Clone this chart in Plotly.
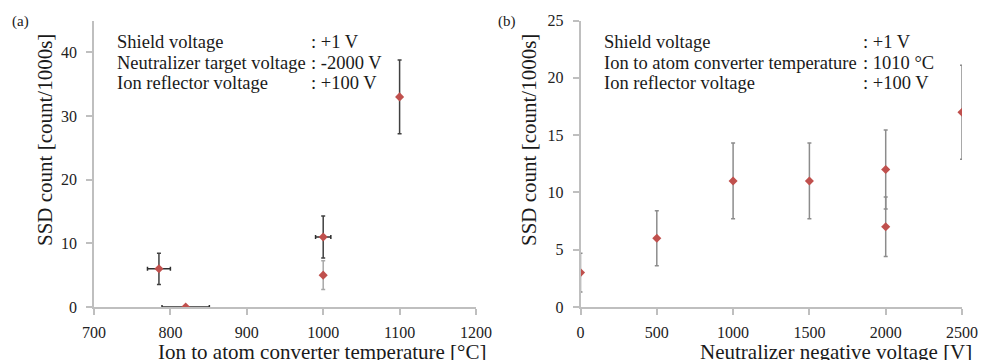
import plotly.graph_objects as go

# ---- data: panel (a) ----
temp_x = [785, 820, 1000, 1100]
temp_y = [6, 0, 11, 33]
temp_xerr = [15, 31, 10, 0]
temp_yerr = [2.45, 0, 3.3, 5.8]
temp2_x = [1000]
temp2_y = [5]
temp2_yerr = [2.25]

# ---- data: panel (b) ----
volt_x = [0, 500, 1000, 1500, 2000, 2000, 2500]
volt_y = [3, 6, 11, 11, 12, 7, 17]
volt_yerr = [1.7, 2.4, 3.3, 3.3, 3.45, 2.6, 4.1]

info_a_labels = ["Shield voltage", "Neutralizer target voltage", "Ion reflector voltage"]
info_a_values = [": +1 V", ": -2000 V", ": +100 V"]
info_b_labels = ["Shield voltage", "Ion to atom converter temperature", "Ion reflector voltage"]
info_b_values = [": +1 V", ": 1010 °C", ": +100 V"]

FONT = "Liberation Serif, Times New Roman, serif"
RED = "#C0504D"
W, H = 982, 360

fig = go.Figure()
mk = dict(symbol="diamond", size=7, color=RED)

fig.add_trace(go.Scatter(
    x=temp_x, y=temp_y, mode="markers", marker=mk, xaxis="x", yaxis="y",
    error_x=dict(type="data", array=temp_xerr, color="#303030", thickness=1.5, width=2),
    error_y=dict(type="data", array=temp_yerr, color="#404040", thickness=1.5, width=2),
    showlegend=False))
fig.add_trace(go.Scatter(
    x=temp2_x, y=temp2_y, mode="markers", marker=mk, xaxis="x", yaxis="y",
    error_y=dict(type="data", array=temp2_yerr, color="#a8a8a8", thickness=1.5, width=2),
    showlegend=False))
fig.add_trace(go.Scatter(
    x=volt_x, y=volt_y, mode="markers", marker=mk, xaxis="x2", yaxis="y2",
    error_y=dict(type="data", array=volt_yerr, color="#8c8c8c", thickness=1.5, width=2),
    showlegend=False))

y_dom = [(H - 307) / H, (H - 20.5) / H]
axis_common = dict(
    showline=True, linecolor="#bfbfbf", linewidth=1.5, showgrid=False, zeroline=False,
    ticks="outside", ticklen=6, tickcolor="#bfbfbf", tickwidth=1.5, automargin=False,
    tickfont=dict(family=FONT, size=16, color="#222222"),
)

fig.update_layout(
    width=W, height=H,
    margin=dict(l=0, r=0, t=0, b=0),
    paper_bgcolor="white", plot_bgcolor="white",
    xaxis=dict(domain=[94 / W, 476 / W], range=[700, 1200], dtick=100, anchor="y",
               ticklabelstandoff=4, **axis_common),
    yaxis=dict(domain=y_dom, range=[0, 45], tickvals=[0, 10, 20, 30, 40], anchor="x",
               ticklabelstandoff=6, **axis_common),
    xaxis2=dict(domain=[580.5 / W, 962 / W], range=[0, 2500], dtick=500, anchor="y2",
                ticklabelstandoff=4, **axis_common),
    yaxis2=dict(domain=y_dom, range=[0, 25], dtick=5, anchor="x2",
                ticklabelstandoff=6, **axis_common),
)

def px(x, y):
    return x / W, (H - y) / H

ann = []
def add_text(text, x, y, size, xanchor="left", yanchor="middle", angle=0):
    xp, yp = px(x, y)
    ann.append(dict(text=text, x=xp, y=yp, xref="paper", yref="paper", showarrow=False,
                    xanchor=xanchor, yanchor=yanchor, textangle=angle,
                    font=dict(family=FONT, size=size, color="#1a1a1a")))

add_text("(a)", 10, 21, 15)
add_text("(b)", 496, 21, 15)

line_y = [42, 63, 83.5]
for lab, val, yy in zip(info_a_labels, info_a_values, line_y):
    add_text(lab, 115, yy, 18.5)
    add_text(val, 309, yy, 18.5)
for lab, val, yy in zip(info_b_labels, info_b_values, line_y):
    add_text(lab, 601.5, yy, 18.5)
    add_text(val, 861, yy, 18.5)

add_text("SSD count [count/1000s]", 45, 140, 21, xanchor="center", angle=-90)
add_text("SSD count [count/1000s]", 529, 140, 21, xanchor="center", angle=-90)
add_text("Ion to atom converter temperature [°C]", 322, 352, 21, xanchor="center")
add_text("Neutralizer negative voltage [V]", 836, 352, 21, xanchor="center")

fig.update_layout(annotations=ann)
fig.write_html(
    "out.html",
    config={"displayModeBar": False},
    post_script="document.body.style.margin='0';document.body.style.padding='0';",
)
